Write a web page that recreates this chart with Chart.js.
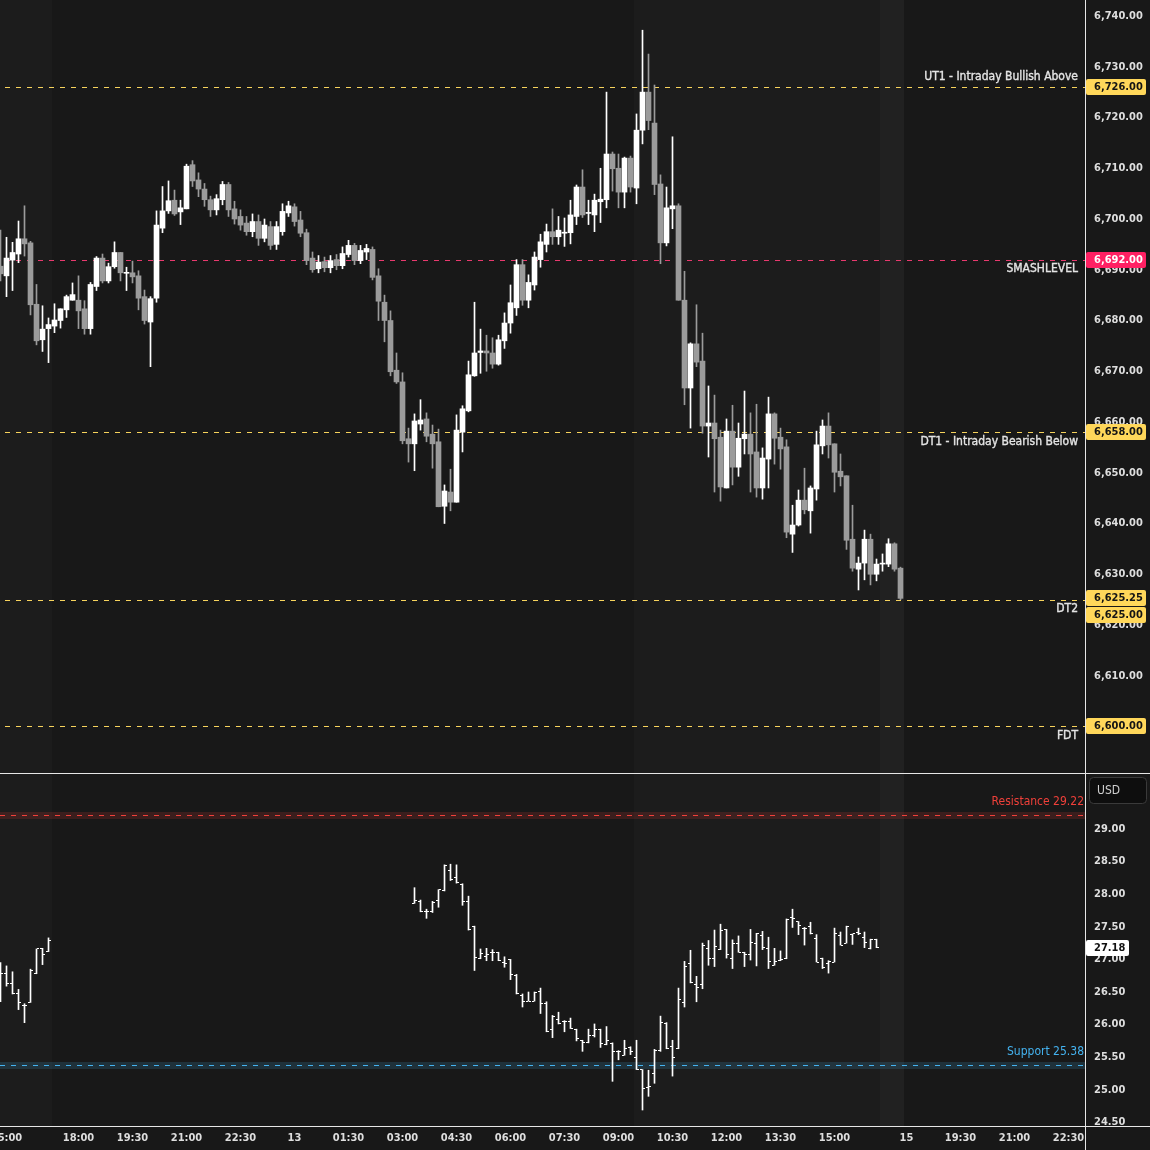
<!DOCTYPE html>
<html>
<head>
<meta charset="utf-8">
<script src="https://cdn.jsdelivr.net/npm/chart.js@4.4.1/dist/chart.umd.min.js"></script>
<style>
  html, body { margin: 0; padding: 0; background: #181818; }
  #wrap { position: relative; width: 1150px; height: 1150px; overflow: hidden; }
  canvas { position: absolute; left: 0; display: block; }
</style>
</head>
<body>
<div id="wrap">
  <canvas id="top" width="1150" height="773" style="top:0"></canvas>
  <canvas id="bot" width="1150" height="377" style="top:773px"></canvas>
</div>
<script>
// ES 10-minute candles, one entry per bar
const esOpen = [6690.7,6688.8,6691.9,6693.1,6696.1,6695.3,6683.2,6676.2,6678.4,6678.9,6680.0,6682.1,6684.0,6684.0,6682.3,6678.4,6686.7,6692.3,6687.8,6690.6,
  6693.4,6689.3,6689.4,6688.8,6684.7,6679.7,6684.4,6698.2,6701.6,6703.7,6701.4,6702.0,6710.7,6707.7,6705.9,6703.8,6701.8,6703.8,6706.8,6702.0,
  6700.5,6699.2,6697.5,6699.5,6696.2,6698.5,6695.0,6697.5,6701.2,6702.4,6699.8,6697.3,6692.3,6690.2,6691.6,6690.4,6692.0,6690.8,6693.0,6694.8,
  6691.8,6693.5,6694.0,6688.8,6683.6,6680.0,6670.2,6667.9,6656.7,6655.7,6659.6,6660.6,6657.6,6656.1,6643.4,6646.2,6644.2,6658.0,6662.2,6669.1,
  6673.7,6674.0,6673.6,6671.4,6676.0,6679.5,6682.5,6691.0,6684.0,6687.0,6692.0,6695.0,6697.5,6696.5,6697.2,6697.3,6700.5,6706.3,6701.1,6700.8,
  6703.4,6703.8,6712.8,6710.0,6705.3,6712.0,6706.1,6717.5,6725.0,6718.9,6706.9,6695.3,6702.0,6702.6,6684.0,6666.7,6675.4,6672.0,6659.2,6659.8,
  6657.0,6647.0,6658.2,6651.1,6656.7,6657.6,6654.1,6647.0,6652.7,6661.6,6657.0,6655.1,6637.9,6639.7,6644.6,6642.5,6646.8,6655.3,6659.2,6655.7,
  6650.3,6649.4,6636.9,6631.0,6632.2,6636.9,6630.0,6632.0,6632.0,6636.0,6631.2];
const esHigh = [6697.8,6696.4,6695.4,6699.6,6702.6,6695.6,6687.1,6682.9,6680.5,6683.3,6682.3,6685.0,6687.4,6688.8,6683.9,6687.5,6692.6,6693.1,6691.3,6695.5,
  6693.4,6690.5,6691.7,6689.8,6686.0,6684.7,6701.6,6706.4,6707.5,6705.7,6703.7,6710.8,6711.5,6709.1,6707.0,6704.5,6704.8,6707.4,6707.2,6703.5,
  6701.8,6700.5,6701.0,6700.8,6700.0,6699.5,6699.5,6703.0,6703.5,6703.0,6701.5,6698.0,6693.5,6692.8,6692.5,6692.8,6693.0,6694.5,6695.8,6695.2,
  6694.8,6695.0,6694.5,6690.2,6685.0,6681.9,6673.6,6669.7,6658.8,6661.6,6664.4,6661.8,6659.4,6658.6,6647.6,6650.7,6661.4,6663.2,6672.0,6683.6,
  6678.3,6677.1,6676.6,6677.1,6681.5,6687.0,6692.0,6692.0,6689.0,6693.5,6697.0,6699.0,6702.0,6700.5,6700.2,6703.7,6706.7,6709.7,6703.7,6704.9,
  6710.0,6725.0,6713.2,6712.8,6712.2,6712.4,6720.7,6737.2,6732.5,6726.4,6708.7,6706.3,6716.2,6703.0,6689.7,6675.6,6683.1,6677.5,6667.1,6665.3,
  6658.4,6660.6,6663.3,6659.8,6666.1,6661.8,6663.5,6654.9,6664.9,6661.8,6658.8,6656.5,6643.6,6646.6,6650.9,6647.4,6658.2,6660.4,6661.8,6655.7,
  6653.7,6649.4,6643.6,6633.4,6638.7,6637.9,6633.0,6634.0,6637.0,6636.2,6631.4];
const esLow = [6687.8,6684.7,6685.9,6691.4,6692.7,6681.1,6675.2,6673.9,6671.7,6677.6,6678.5,6680.6,6684.0,6678.4,6677.3,6677.3,6685.9,6687.4,6687.4,6690.3,
  6687.8,6685.9,6687.4,6682.1,6679.3,6670.9,6683.6,6697.3,6701.1,6700.7,6698.9,6702.0,6706.4,6704.4,6702.5,6700.5,6700.8,6702.8,6700.5,6699.0,
  6697.8,6696.8,6696.5,6694.8,6695.5,6694.0,6694.0,6696.8,6700.5,6698.6,6696.5,6691.0,6689.5,6689.4,6689.6,6689.4,6690.0,6690.2,6692.5,6691.0,
  6691.2,6692.0,6688.0,6680.0,6675.8,6669.1,6667.6,6655.7,6652.1,6650.4,6658.4,6656.1,6650.9,6643.3,6640.0,6642.5,6644.2,6654.1,6662.0,6669.0,
  6669.6,6670.0,6670.6,6671.2,6674.5,6677.5,6681.0,6683.0,6682.5,6686.0,6690.5,6693.5,6695.0,6695.0,6694.6,6695.1,6698.9,6700.3,6698.9,6697.5,
  6699.3,6702.2,6705.5,6702.2,6702.2,6705.3,6703.0,6714.8,6717.6,6704.8,6691.2,6694.7,6698.1,6684.0,6663.4,6658.8,6670.9,6657.8,6653.1,6646.2,
  6644.4,6647.0,6647.6,6649.3,6653.7,6646.2,6645.2,6644.8,6647.0,6651.7,6650.7,6637.2,6634.3,6639.5,6641.9,6638.1,6644.6,6653.7,6652.9,6646.2,
  6647.4,6634.9,6630.6,6626.9,6628.9,6627.9,6628.7,6630.6,6631.5,6630.6,6625.0];
const esClose = [6689.2,6692.3,6693.4,6696.1,6695.1,6683.1,6676.0,6678.3,6679.2,6680.1,6682.3,6684.7,6685.1,6681.9,6678.4,6687.1,6692.3,6687.8,6690.6,6693.4,
  6689.4,6689.3,6688.6,6684.4,6680.0,6684.3,6698.8,6701.6,6703.6,6701.0,6702.2,6710.4,6707.5,6705.9,6703.8,6701.8,6704.0,6706.8,6701.8,6700.0,
  6698.8,6697.5,6699.5,6696.2,6698.8,6694.8,6698.5,6701.5,6702.6,6699.5,6697.2,6691.8,6690.0,6691.5,6690.4,6691.8,6690.8,6693.2,6694.8,6691.8,
  6693.8,6694.2,6688.5,6683.8,6680.0,6669.9,6667.9,6656.3,6655.7,6660.2,6660.4,6657.2,6655.7,6643.3,6646.4,6644.2,6658.4,6662.6,6669.3,6673.6,
  6674.0,6673.6,6671.4,6676.2,6679.5,6683.5,6691.0,6684.0,6687.5,6692.5,6695.5,6697.5,6696.5,6697.8,6697.4,6700.8,6706.3,6700.8,6701.1,6703.7,
  6703.9,6712.8,6709.9,6705.3,6712.0,6706.3,6717.5,6725.0,6719.4,6706.8,6695.3,6702.2,6702.6,6684.0,6666.7,6675.4,6671.8,6659.2,6659.8,6656.7,
  6647.2,6658.2,6651.1,6656.8,6657.6,6653.7,6647.0,6652.9,6661.6,6656.8,6654.7,6638.3,6639.7,6644.6,6642.7,6647.0,6655.5,6659.2,6655.5,6650.1,
  6649.2,6636.7,6631.2,6632.2,6636.9,6630.0,6632.0,6632.0,6636.0,6631.0,6625.25];

// lower pane OHLC bars, bar number + values
const vixIdx = [0,1,2,3,4,5,6,7,8,
  69,70,71,72,73,74,75,76,77,78,79,80,81,82,83,84,85,86,87,88,89,90,91,92,93,94,95,96,97,98,99,100,
  101,102,103,104,105,106,107,108,109,110,111,112,113,114,115,116,117,118,119,120,121,122,123,124,125,126,127,128,129,130,
  131,132,133,134,135,136,137,138,139,140,141,142,143,144,145,146];
const vixOpen = [26.55,26.79,26.63,26.47,26.30,26.34,26.78,27.16,27.12,
  27.86,27.89,27.74,27.73,27.91,28.06,28.37,28.26,28.15,27.89,27.50,27.02,27.05,27.10,27.10,26.96,27.00,26.75,26.45,26.36,26.36,26.51,26.33,25.92,26.08,26.05,26.05,25.92,25.75,25.73,25.83,25.92,
  25.70,25.71,25.58,25.53,25.65,25.49,25.31,25.03,25.25,25.60,26.02,25.66,25.63,26.34,26.93,26.62,26.61,27.17,27.02,27.15,27.46,27.02,27.25,27.11,27.08,27.24,27.36,27.17,26.91,26.98,
  27.01,27.64,27.58,27.48,27.51,27.32,27.02,26.93,26.96,27.36,27.25,27.38,27.41,27.34,27.16,27.31];
const vixHigh = [26.95,26.90,26.81,26.54,26.32,26.85,27.16,27.17,27.33,
  28.10,27.91,27.77,27.89,28.07,28.45,28.46,28.45,28.16,27.97,27.51,27.16,27.17,27.15,27.11,27.04,27.00,26.77,26.47,26.50,26.50,26.56,26.35,26.14,26.19,26.06,26.10,25.93,25.76,25.93,26.01,25.93,
  25.97,25.72,25.60,25.76,25.66,25.76,25.31,25.30,25.62,26.13,26.03,25.76,26.56,26.97,27.14,26.74,27.25,27.29,27.45,27.54,27.46,27.30,27.36,27.11,27.46,27.40,27.43,27.34,27.17,27.13,
  27.62,27.77,27.58,27.49,27.57,27.38,27.02,26.98,27.48,27.42,27.51,27.39,27.48,27.42,27.31,27.31];
const vixLow = [26.35,26.59,26.47,26.23,26.03,26.34,26.78,26.92,27.12,
  27.86,27.73,27.63,27.72,27.80,28.05,28.21,28.17,27.83,27.45,26.83,27.01,26.98,26.98,26.98,26.88,26.69,26.47,26.27,26.36,26.36,26.17,25.89,25.80,26.01,25.89,25.94,25.75,25.59,25.72,25.81,25.65,
  25.69,25.13,25.46,25.53,25.54,25.31,24.69,24.90,25.10,25.59,25.63,25.21,25.63,26.27,26.64,26.35,26.55,26.91,26.89,27.15,27.02,26.86,27.11,26.89,26.99,26.90,27.15,26.86,26.91,26.98,
  27.01,27.49,27.38,27.22,27.39,26.96,26.86,26.79,26.96,27.22,27.25,27.23,27.38,27.18,27.16,27.18];
const vixClose = [26.79,26.63,26.47,26.34,26.29,26.83,27.16,27.08,27.29,
  27.91,27.74,27.74,27.88,28.07,28.44,28.22,28.18,27.89,27.46,27.03,27.09,27.08,27.10,26.99,26.93,26.77,26.47,26.36,26.36,26.49,26.33,25.90,26.12,26.02,26.05,25.94,25.78,25.73,25.84,25.93,25.71,
  25.75,25.58,25.59,25.63,25.59,25.31,25.02,25.05,25.61,26.03,25.64,25.50,26.38,26.89,26.64,26.57,27.22,27.01,27.20,27.45,27.08,27.25,27.11,27.08,27.26,27.40,27.18,26.97,26.97,27.00,
  27.61,27.63,27.52,27.48,27.39,26.96,26.87,26.97,27.40,27.22,27.51,27.39,27.39,27.26,27.31,27.18];

// time axis
const timeTickIdx = [1,13,22,31,40,49,58,67,76,85,94,103,112,121,130,139,151,160,169,178];
const timeTickLabels = ['15:00','18:00','19:30','21:00','22:30','13','01:30','03:00','04:30','06:00','07:30','09:00','10:30','12:00','13:30','15:00','15','19:30','21:00','22:30'];

// regular session shading (bar positions)
const rthStart = [-1, 105.5];
const rthEnd = [8.5, 146.5];
const postStart = [146.5];
const postEnd = [150.5];

// price levels
const levelNames = ['UT1 - Intraday Bullish Above', 'SMASHLEVEL', 'DT1 - Intraday Bearish Below', 'DT2', 'FDT'];
const levelValues = [6726, 6692, 6658, 6625, 6600];
const lastPrice = 6625.25;

// lower pane levels
const vixLevelNames = ['Resistance', 'Support'];
const vixLevelValues = [29.22, 25.38];
const lastVix = 27.18;

// styles
const FONT = "'DejaVu Sans Condensed', 'DejaVu Sans', sans-serif";
const levelColors = ['#f7d35c', '#e8396e', '#f7d35c', '#f7d35c', '#f7d35c'];
const levelTagColors = ['#ffd75a', '#ff2063', '#ffd75a', '#ffd75a', '#ffd75a'];
const levelTagText = ['#141414', '#ffffff', '#141414', '#141414', '#141414'];
const levelBelow = [false, true, true, true, true];
const vixLevelColors = ['#f0403a', '#44b2ef'];
const vixBandColors = ['rgba(240,64,58,0.16)', 'rgba(68,178,239,0.16)'];
const BG = '#181818', RTH_BG = '#1c1c1c', POST_BG = '#212121', AXIS_LINE = '#e6e6e6';

Chart.defaults.font.family = FONT;
Chart.defaults.font.size = 11;
Chart.defaults.font.weight = 'bold';
Chart.defaults.color = '#dedede';

const xMin = -0.5 / 6;
const xMax = xMin + 1085 / 6;

const fmtPrice = v => v.toLocaleString('en-US', { minimumFractionDigits: 2, maximumFractionDigits: 2 });

function roundRect(ctx, x, y, w, h, r) {
  ctx.beginPath();
  ctx.moveTo(x + r, y);
  ctx.lineTo(x + w - r, y); ctx.quadraticCurveTo(x + w, y, x + w, y + r);
  ctx.lineTo(x + w, y + h - r); ctx.quadraticCurveTo(x + w, y + h, x + w - r, y + h);
  ctx.lineTo(x + r, y + h); ctx.quadraticCurveTo(x, y + h, x, y + h - r);
  ctx.lineTo(x, y + r); ctx.quadraticCurveTo(x, y, x + r, y);
  ctx.closePath();
}

function drawTag(ctx, left, w, cy, text, bg, fg) {
  ctx.fillStyle = bg;
  roundRect(ctx, left, Math.round(cy - 8), w, 16, 2);
  ctx.fill();
  ctx.fillStyle = fg;
  ctx.font = 'bold 11px ' + FONT;
  ctx.textAlign = 'left';
  ctx.textBaseline = 'middle';
  ctx.fillText(text, left + 8, Math.round(cy - 8) + 8.5);
}

// crisp dashed horizontal level line at a scale value
function levelLine(chart, value, color, fromX) {
  const { ctx, chartArea: a, scales: { y } } = chart;
  const py = Math.round(y.getPixelForValue(value)) + 0.5;
  ctx.save();
  ctx.strokeStyle = color;
  ctx.lineWidth = 1;
  ctx.setLineDash([5, 6]);
  ctx.beginPath();
  ctx.moveTo(fromX, py);
  ctx.lineTo(a.right, py);
  ctx.stroke();
  ctx.restore();
}

const backgroundPlugin = {
  id: 'sessionBg',
  beforeDraw(chart) {
    const { ctx, chartArea: a, scales: { x } } = chart;
    ctx.save();
    ctx.fillStyle = BG;
    ctx.fillRect(0, 0, chart.width, chart.height);
    const band = (s, e, c) => {
      const l = Math.max(a.left, x.getPixelForValue(s));
      const r = Math.min(a.right, x.getPixelForValue(e));
      if (r > l) { ctx.fillStyle = c; ctx.fillRect(Math.round(l), a.top, Math.round(r) - Math.round(l), a.bottom - a.top); }
    };
    rthStart.forEach((s, i) => band(s, rthEnd[i], RTH_BG));
    postStart.forEach((s, i) => band(s, postEnd[i], POST_BG));
    ctx.restore();
  }
};

// ---------- upper pane: candles ----------
const esIdx = esOpen.map((_, i) => i);
const candleColors = esIdx.map(i => esClose[i] >= esOpen[i] ? '#ffffff' : '#9b9b9b');

const topOverlay = {
  id: 'topOverlay',
  beforeDatasetsDraw(chart) {
    levelValues.forEach((v, i) => levelLine(chart, v, levelColors[i], 5));
  },
  afterDraw(chart) {
    const { ctx, chartArea: a, scales: { y } } = chart;
    ctx.save();
    ctx.font = '12px ' + FONT;
    ctx.textAlign = 'right';
    ctx.textBaseline = 'middle';
    ctx.fillStyle = '#e4e4e4';
    ctx.strokeStyle = '#e4e4e4';
    ctx.lineWidth = 0.35;
    levelValues.forEach((v, i) => {
      const py = y.getPixelForValue(v);
      const ty = py + (levelBelow[i] ? 9.5 : -10.5);
      ctx.fillText(levelNames[i], a.right - 7, ty);
      ctx.strokeText(levelNames[i], a.right - 7, ty);
    });
    ctx.fillStyle = AXIS_LINE;
    ctx.fillRect(a.right, 0, 1, chart.height);
    const lastY = y.getPixelForValue(lastPrice);
    drawTag(ctx, a.right + 1, 60, lastY, fmtPrice(lastPrice), '#ffd75a', '#141414');
    levelValues.forEach((v, i) => {
      let py = y.getPixelForValue(v);
      if (Math.abs(py - lastY) < 16) py = lastY + 16.5;
      drawTag(ctx, a.right + 1, 60, py, fmtPrice(v), levelTagColors[i], levelTagText[i]);
    });
    ctx.restore();
  }
};

new Chart(document.getElementById('top'), {
  type: 'bar',
  data: {
    datasets: [
      {
        label: 'wick',
        data: esIdx.map(i => ({ x: i, y: [esLow[i], esHigh[i]] })),
        backgroundColor: candleColors,
        barThickness: 1, minBarLength: 1, grouped: false, order: 2
      },
      {
        label: 'body',
        data: esIdx.map(i => ({ x: i, y: [esOpen[i], esClose[i]] })),
        backgroundColor: candleColors,
        barThickness: 5, minBarLength: 1, grouped: false, order: 1
      }
    ]
  },
  options: {
    responsive: false,
    animation: false,
    layout: { padding: 0, autoPadding: false },
    plugins: { legend: { display: false }, tooltip: { enabled: false } },
    scales: {
      x: { type: 'linear', display: false, min: xMin, max: xMax, offset: false },
      y: {
        position: 'right', min: 6590.837, max: 6743.153,
        grid: { display: false, drawTicks: false },
        border: { display: false },
        ticks: { stepSize: 10, includeBounds: false, padding: 9, color: '#dedede', callback: v => fmtPrice(v) },
        afterFit(s) { s.width = 65; s.paddingTop = 0; s.paddingBottom = 0; }
      }
    }
  },
  plugins: [backgroundPlugin, topOverlay]
});

// ---------- lower pane: OHLC bars ----------
function tickImage(side) {
  const c = document.createElement('canvas');
  c.width = 5; c.height = 1;
  const g = c.getContext('2d');
  g.fillStyle = '#ffffff';
  g.fillRect(side === 'open' ? 0 : 3, 0, 2, 1);
  return c;
}
const openTick = tickImage('open');
const closeTick = tickImage('close');

const botOverlay = {
  id: 'botOverlay',
  beforeDatasetsDraw(chart) {
    const { ctx, chartArea: a, scales: { y } } = chart;
    ctx.save();
    vixLevelValues.forEach((v, i) => {
      const py = Math.round(y.getPixelForValue(v));
      ctx.fillStyle = vixBandColors[i];
      ctx.fillRect(a.left, py - 3, a.right - a.left, 7);
    });
    ctx.restore();
    vixLevelValues.forEach((v, i) => levelLine(chart, v, vixLevelColors[i], 0));
  },
  afterDraw(chart) {
    const { ctx, chartArea: a, scales: { y } } = chart;
    ctx.save();
    ctx.font = '12px ' + FONT;
    ctx.textAlign = 'right';
    ctx.textBaseline = 'middle';
    vixLevelValues.forEach((v, i) => {
      const py = y.getPixelForValue(v);
      ctx.fillStyle = vixLevelColors[i];
      ctx.fillText(vixLevelNames[i] + ' ' + v.toFixed(2), a.right - 1, py - 13);
    });
    ctx.fillStyle = AXIS_LINE;
    ctx.fillRect(a.right, 0, 1, chart.height);
    ctx.fillRect(0, 0, chart.width, 1);
    ctx.fillRect(0, a.bottom, chart.width, 1);
    // currency box
    ctx.fillStyle = '#0e0e0e';
    roundRect(ctx, a.right + 4.5, 4.5, 57, 26, 4);
    ctx.fill();
    ctx.strokeStyle = '#3a3a3a';
    ctx.lineWidth = 1;
    ctx.stroke();
    ctx.fillStyle = '#d0d0d0';
    ctx.font = '12px ' + FONT;
    ctx.textAlign = 'left';
    ctx.fillText('USD', a.right + 12, 18);
    drawTag(ctx, a.right + 1, 43, y.getPixelForValue(lastVix), lastVix.toFixed(2), '#ffffff', '#111111');
    ctx.restore();
  }
};

new Chart(document.getElementById('bot'), {
  type: 'bar',
  data: {
    datasets: [
      {
        label: 'range',
        data: vixIdx.map((k, i) => ({ x: k, y: [vixLow[i], vixHigh[i]] })),
        backgroundColor: '#ffffff',
        barThickness: 1, minBarLength: 1, grouped: false, order: 2
      },
      {
        type: 'line', label: 'open', showLine: false,
        data: vixIdx.map((k, i) => ({ x: k, y: vixOpen[i] })),
        pointStyle: openTick, pointRadius: 1, pointHoverRadius: 1, order: 1
      },
      {
        type: 'line', label: 'close', showLine: false,
        data: vixIdx.map((k, i) => ({ x: k, y: vixClose[i] })),
        pointStyle: closeTick, pointRadius: 1, pointHoverRadius: 1, order: 1
      }
    ]
  },
  options: {
    responsive: false,
    animation: false,
    layout: { padding: { top: 1, left: 0, right: 0, bottom: 0 }, autoPadding: false },
    plugins: { legend: { display: false }, tooltip: { enabled: false } },
    scales: {
      x: {
        type: 'linear', min: xMin, max: xMax, offset: false,
        grid: { display: false, drawTicks: false },
        border: { display: false },
        ticks: {
          autoSkip: false, maxRotation: 0, padding: 6, color: '#dedede',
          callback: v => timeTickLabels[timeTickIdx.indexOf(v)]
        },
        afterBuildTicks(s) { s.ticks = timeTickIdx.map(v => ({ value: v })); },
        afterFit(s) { s.height = 24; s.paddingLeft = 0; s.paddingRight = 0; }
      },
      y: {
        position: 'right', min: 24.4448, max: 29.8436,
        grid: { display: false, drawTicks: false },
        border: { display: false },
        ticks: { stepSize: 0.5, includeBounds: false, padding: 9, color: '#dedede', callback: v => v.toFixed(2) },
        afterFit(s) { s.width = 65; s.paddingTop = 0; s.paddingBottom = 0; }
      }
    }
  },
  plugins: [backgroundPlugin, botOverlay]
});
</script>
</body>
</html>
